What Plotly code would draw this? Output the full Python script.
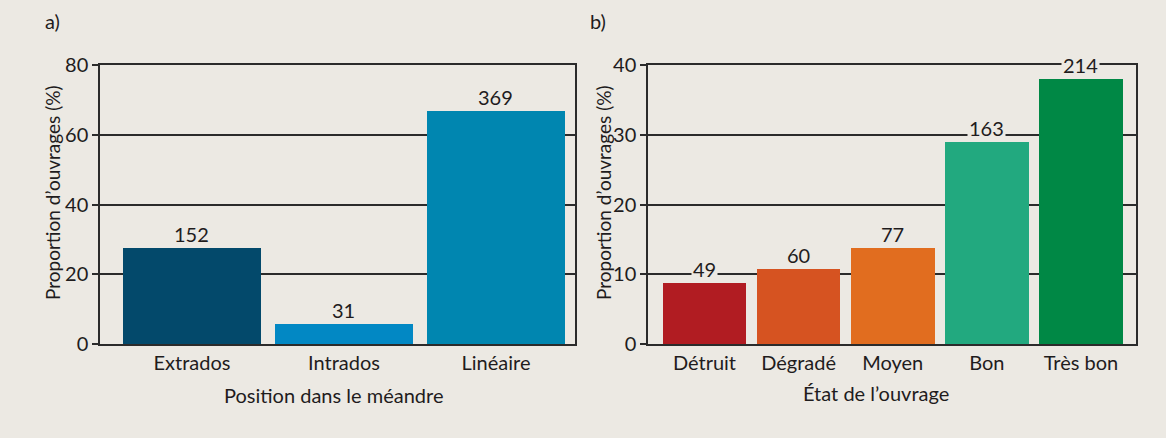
import plotly.graph_objects as go

# Panel a)
pos_categories = ["Extrados", "Intrados", "Linéaire"]
pos_percent = [27.5, 5.6, 66.8]
pos_counts = [152, 31, 369]
pos_colors = ["#03496B", "#0288C4", "#0086B0"]

# Panel b)
etat_categories = ["Détruit", "Dégradé", "Moyen", "Bon", "Très bon"]
etat_percent = [8.7, 10.7, 13.7, 29.0, 38.0]
etat_counts = [49, 60, 77, 163, 214]
etat_colors = ["#B11C22", "#D65321", "#E16D1F", "#22A97F", "#008845"]

left_ticks = [0, 20, 40, 60, 80]
right_ticks = [0, 10, 20, 30, 40]

BG = "#ECE9E3"
INK = "#1f1c1d"
FONT = "Lato"
FS = 20
YT = 19
W, H = 1166, 438

fig = go.Figure()
fig.add_trace(go.Bar(x=pos_categories, y=pos_percent, marker=dict(color=pos_colors, line=dict(width=0)),
                     width=0.91, xaxis="x", yaxis="y", showlegend=False, hoverinfo="skip"))
fig.add_trace(go.Bar(x=etat_categories, y=etat_percent, marker=dict(color=etat_colors, line=dict(width=0)),
                     width=0.89, xaxis="x2", yaxis="y2", showlegend=False, hoverinfo="skip"))

def px_x(p):
    return p / W

def px_y(p):
    return 1 - p / H

yaxis_common = dict(showgrid=True, gridcolor="#2b2b2b", gridwidth=1.5, showline=True, linecolor="#2b2b2b",
                    linewidth=1.5, mirror=True, ticks="outside", ticklen=6, tickcolor="#2b2b2b", tickwidth=1.5,
                    zeroline=False, automargin=False,
                    tickfont=dict(family=FONT, size=FS, color=INK), layer="below traces")
xaxis_common = dict(showline=True, linecolor="#2b2b2b", linewidth=1.5, mirror=True, ticks="",
                    showgrid=False, automargin=False,
                    tickfont=dict(family=FONT, size=FS, color=INK), type="category")

fig.update_layout(
    width=W, height=H,
    margin=dict(l=0, r=0, t=0, b=0, pad=0),
    paper_bgcolor=BG, plot_bgcolor=BG,
    font=dict(family=FONT, color=INK),
    bargap=0,
    xaxis=dict(domain=[px_x(100), px_x(575)], range=[-0.605, 2.52], anchor="y", **xaxis_common),
    yaxis=dict(domain=[px_y(344), px_y(65)], range=[0, 80], tickvals=left_ticks, anchor="x", **yaxis_common),
    xaxis2=dict(domain=[px_x(648), px_x(1136)], range=[-0.6, 4.585], anchor="y2", **xaxis_common),
    yaxis2=dict(domain=[px_y(344), px_y(65)], range=[0, 40], tickvals=right_ticks, anchor="x2", **yaxis_common),
)

annotations = []
for c, v, n in zip(pos_categories, pos_percent, pos_counts):
    annotations.append(dict(x=c, y=v, xref="x", yref="y", text=str(n), showarrow=False, yshift=14,
                            yanchor="middle", font=dict(family=FONT, size=FS, color=INK),
                            bgcolor=BG, borderpad=1))
for c, v, n in zip(etat_categories, etat_percent, etat_counts):
    annotations.append(dict(x=c, y=v, xref="x2", yref="y2", text=str(n), showarrow=False, yshift=14,
                            yanchor="middle", font=dict(family=FONT, size=FS, color=INK),
                            bgcolor=BG, borderpad=1))

# axis titles and panel labels
annotations += [
    dict(x=px_x(333), y=px_y(395), xref="paper", yref="paper", text="Position dans le méandre",
         showarrow=False, font=dict(family=FONT, size=FS, color=INK), xanchor="center", yanchor="middle"),
    dict(x=px_x(876), y=px_y(393), xref="paper", yref="paper", text="État de l’ouvrage",
         showarrow=False, font=dict(family=FONT, size=FS, color=INK), xanchor="center", yanchor="middle"),
    dict(x=px_x(52), y=px_y(193), xref="paper", yref="paper", text="Proportion d’ouvrages (%)",
         showarrow=False, textangle=-90, font=dict(family=FONT, size=YT, color=INK),
         xanchor="center", yanchor="middle"),
    dict(x=px_x(603), y=px_y(193), xref="paper", yref="paper", text="Proportion d’ouvrages (%)",
         showarrow=False, textangle=-90, font=dict(family=FONT, size=YT, color=INK),
         xanchor="center", yanchor="middle"),
    dict(x=px_x(52), y=px_y(21), xref="paper", yref="paper", text="a)",
         showarrow=False, font=dict(family=FONT, size=FS, color=INK), xanchor="center", yanchor="middle"),
    dict(x=px_x(598), y=px_y(21), xref="paper", yref="paper", text="b)",
         showarrow=False, font=dict(family=FONT, size=FS, color=INK), xanchor="center", yanchor="middle"),
]
fig.update_layout(annotations=annotations)

fig.write_html("out.html", config={"displayModeBar": False},
               post_script="document.body.style.margin='0';")
